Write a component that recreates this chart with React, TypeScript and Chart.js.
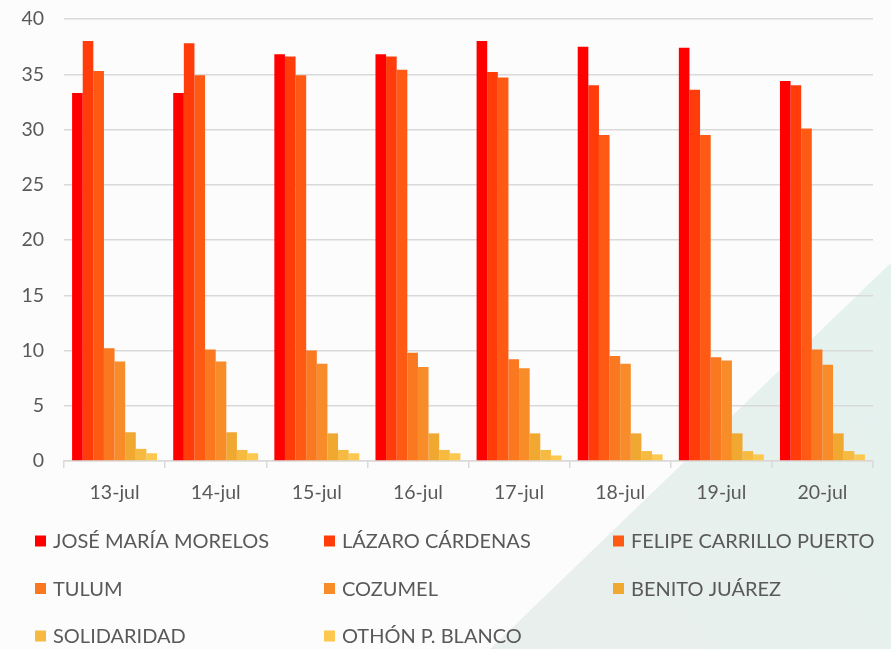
import React, { useEffect, useRef } from "react";
import { Chart, registerables } from "chart.js";

Chart.register(...registerables);

const categories = ["13-jul", "14-jul", "15-jul", "16-jul", "17-jul", "18-jul", "19-jul", "20-jul"];
const seriesNames = [
  "JOSÉ MARÍA MORELOS",
  "LÁZARO CÁRDENAS",
  "FELIPE CARRILLO PUERTO",
  "TULUM",
  "COZUMEL",
  "BENITO JUÁREZ",
  "SOLIDARIDAD",
  "OTHÓN P. BLANCO",
];
const seriesColors = ["#FF0000", "#FF3C0A", "#FF5A14", "#FA7820", "#F78C28", "#F0A830", "#F7BA40", "#FCC850"];

const joseMariaMorelos = [33.3, 33.3, 36.8, 36.8, 38.0, 37.5, 37.4, 34.4];
const lazaroCardenas = [38.0, 37.8, 36.6, 36.6, 35.2, 34.0, 33.6, 34.0];
const felipeCarrilloPuerto = [35.3, 34.9, 34.9, 35.4, 34.7, 29.5, 29.5, 30.1];
const tulum = [10.2, 10.1, 10.0, 9.8, 9.2, 9.5, 9.4, 10.1];
const cozumel = [9.0, 9.0, 8.8, 8.5, 8.4, 8.8, 9.1, 8.7];
const benitoJuarez = [2.6, 2.6, 2.5, 2.5, 2.5, 2.5, 2.5, 2.5];
const solidaridad = [1.1, 1.0, 1.0, 1.0, 1.0, 0.9, 0.9, 0.9];
const othonPBlanco = [0.7, 0.7, 0.7, 0.7, 0.5, 0.6, 0.6, 0.6];

const yTicks = [0, 5, 10, 15, 20, 25, 30, 35, 40];

const seriesValues = [
  joseMariaMorelos,
  lazaroCardenas,
  felipeCarrilloPuerto,
  tulum,
  cozumel,
  benitoJuarez,
  solidaridad,
  othonPBlanco,
];

const FONT = "Lato, 'Open Sans', sans-serif";
const TEXT = "#595959";
const GRID = "#D9D9D9";

const backgroundPlugin = {
  id: "bgDecor",
  beforeDraw(chart: any) {
    const { ctx, width, height } = chart;
    ctx.save();
    ctx.fillStyle = "#FCFCFC";
    ctx.fillRect(0, 0, width, height);
    const g = ctx.createLinearGradient(width, height * 0.4, width * 0.6, height);
    g.addColorStop(0, "#E4F2EE");
    g.addColorStop(1, "#E9EFEC");
    ctx.fillStyle = g;
    ctx.beginPath();
    ctx.moveTo(width * 0.55, height);
    ctx.lineTo(width, height * 0.405);
    ctx.lineTo(width, height);
    ctx.closePath();
    ctx.fill();
    ctx.restore();
  },
};

const gridLegendPlugin = {
  id: "gridLegend",
  afterDraw(chart: any) {
    const { ctx } = chart;
    const cols = 3;
    const left = 35;
    const colW = 289;
    const top = 541;
    const rowH = 47.5;
    const box = 11;
    ctx.save();
    ctx.font = `20px ${FONT}`;
    ctx.textBaseline = "middle";
    ctx.textAlign = "left";
    chart.data.datasets.forEach((ds: any, i: number) => {
      const c = i % cols;
      const r = Math.floor(i / cols);
      const x = left + c * colW;
      const y = top + r * rowH;
      ctx.fillStyle = ds.backgroundColor;
      ctx.fillRect(x, y - box / 2, box, box);
      ctx.fillStyle = TEXT;
      ctx.fillText(ds.label, x + 18, y + 1);
    });
    ctx.restore();
  },
};

export default function App() {
  const ref = useRef<HTMLCanvasElement | null>(null);

  useEffect(() => {
    if (!ref.current) return;
    const chart = new Chart(ref.current, {
      type: "bar",
      data: {
        labels: categories,
        datasets: seriesNames.map((name, i) => ({
          label: name,
          data: seriesValues[i],
          backgroundColor: seriesColors[i],
          borderWidth: 0,
          categoryPercentage: 0.84,
          barPercentage: 1,
        })),
      },
      options: {
        animation: false,
        responsive: false,
        maintainAspectRatio: false,
        layout: { padding: { left: 0, right: 18, top: 19, bottom: 138 } },
        plugins: {
          legend: { display: false },
          tooltip: { enabled: false },
        },
        scales: {
          x: {
            grid: {
              offset: true,
              drawOnChartArea: false,
              drawTicks: true,
              tickLength: 7,
              color: GRID,
              lineWidth: 1.5,
            },
            border: { display: true, color: GRID, width: 1.5 },
            ticks: {
              color: TEXT,
              font: { family: FONT, size: 19.5 },
              padding: 13,
            },
            afterFit(scale: any) {
              scale.height = 50;
            },
          },
          y: {
            min: 0,
            max: 40,
            afterBuildTicks(scale: any) {
              scale.ticks = yTicks.map((v) => ({ value: v }));
            },
            grid: { color: GRID, lineWidth: 1.5, drawTicks: false },
            border: { display: false },
            ticks: {
              color: TEXT,
              font: { family: FONT, size: 19.5 },
              padding: 20,
            },
            afterFit(scale: any) {
              scale.width = 64;
              scale.paddingTop = 0;
              scale.paddingBottom = 0;
            },
          },
        },
      },
      plugins: [backgroundPlugin, gridLegendPlugin],
    });
    return () => chart.destroy();
  }, []);

  return (
    <div style={{ position: "fixed", left: 0, top: 0, width: 891, height: 649 }}>
      <canvas ref={ref} width={891} height={649} style={{ width: 891, height: 649, display: "block" }} />
    </div>
  );
}
